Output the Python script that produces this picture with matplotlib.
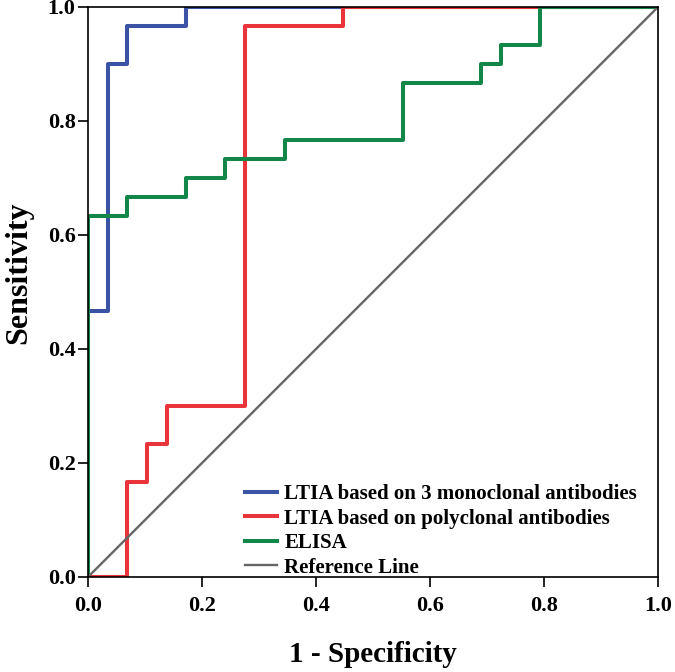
import matplotlib.pyplot as plt

# ROC step curves (1 - specificity, sensitivity)
mono_x = [0, 0, 0.0345, 0.0345, 0.069, 0.069, 0.172, 0.172, 1.0]
mono_y = [0, 0.467, 0.467, 0.9, 0.9, 0.967, 0.967, 1.0, 1.0]

poly_x = [0, 0.069, 0.069, 0.103, 0.103, 0.138, 0.138, 0.276, 0.276, 0.448, 0.448, 1.0]
poly_y = [0, 0, 0.167, 0.167, 0.233, 0.233, 0.3, 0.3, 0.967, 0.967, 1.0, 1.0]

elisa_x = [0, 0, 0.069, 0.069, 0.172, 0.172, 0.241, 0.241, 0.345, 0.345,
           0.552, 0.552, 0.690, 0.690, 0.724, 0.724, 0.793, 0.793, 1.0]
elisa_y = [0, 0.633, 0.633, 0.667, 0.667, 0.7, 0.7, 0.733, 0.733, 0.767,
           0.767, 0.867, 0.867, 0.9, 0.9, 0.933, 0.933, 1.0, 1.0]

ref_x = [0, 1]
ref_y = [0, 1]

plt.rcParams['font.family'] = 'Liberation Serif'
plt.rcParams['font.weight'] = 'bold'

fig = plt.figure(figsize=(6.75, 6.72), dpi=100)
ax = fig.add_axes([0.1304, 0.1414, 0.8444, 0.8482])

ax.plot(mono_x, mono_y, color='#3A53A4', lw=2.9, label='LTIA based on 3 monoclonal antibodies')
ax.plot(poly_x, poly_y, color='#E8343A', lw=2.9, label='LTIA based on polyclonal antibodies')
ax.plot(elisa_x, elisa_y, color='#13874A', lw=2.9, label='ELISA')
ax.plot(ref_x, ref_y, color='#666666', lw=1.7, label='Reference Line')

ax.set_xlim(0, 1)
ax.set_ylim(0, 1)
ax.set_xticks([0, 0.2, 0.4, 0.6, 0.8, 1.0])
ax.set_yticks([0, 0.2, 0.4, 0.6, 0.8, 1.0])
ax.xaxis.set_major_formatter(plt.FormatStrFormatter('%.1f'))
ax.yaxis.set_major_formatter(plt.FormatStrFormatter('%.1f'))
ax.tick_params(direction='out', length=7, width=1.2, labelsize=16)
ax.tick_params(axis='x', pad=7)
ax.tick_params(axis='y', pad=2)
for lbl in ax.get_xticklabels() + ax.get_yticklabels():
    lbl.set_fontweight('bold')
for s in ax.spines.values():
    s.set_linewidth(1.2)

ax.set_xlabel('1 - Specificity', fontsize=21, fontweight='bold', labelpad=18)
ax.set_ylabel('Sensitivity', fontsize=23, fontweight='bold')
ax.yaxis.set_label_coords(-0.096, 0.533)

leg = ax.legend(loc='lower left', bbox_to_anchor=(0.272, -0.005), frameon=False,
                handlelength=1.55, handletextpad=0.33, labelspacing=0.22,
                borderaxespad=0, borderpad=0.1,
                prop={'weight': 'bold', 'size': 15})

fig.savefig('out.png', dpi=100)
